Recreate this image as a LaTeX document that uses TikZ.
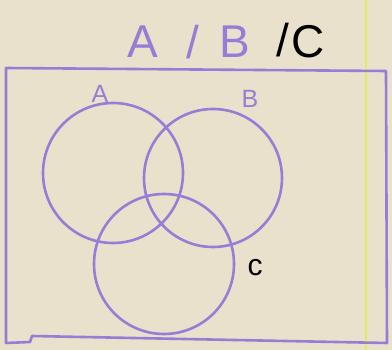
\documentclass[tikz,border=0pt]{standalone}
\usepackage{fontspec}
\setmainfont{Liberation Sans}
\definecolor{paper}{RGB}{233,225,203}
\definecolor{ink}{RGB}{150,126,214}
\definecolor{margin}{RGB}{222,238,96}
\tikzset{
  setcircle/.style={circle, draw=ink, line width=2.6pt, minimum size=140pt, inner sep=0pt},
  setlabel/.style={text=ink, inner sep=0pt, font=\fontsize{25}{25}\selectfont},
  titletext/.style={inner sep=0pt, font=\fontsize{46}{46}\selectfont}
}

\begin{document}
\begin{tikzpicture}[x=1pt,y=-1pt]
\useasboundingbox (0,0) rectangle (392,350);
\fill[paper] (0,0) rectangle (392,350);
\draw[margin, line width=1.2pt] (366,0) -- (366,350);
% title
\node[titletext, text=ink] (titleA) at (143,42) {A};
\node[titletext, text=ink] (slashAB) at (193,42) {/};
\node[titletext, text=ink] (titleB) at (235,42) {B};
\node[titletext] (slashBC) at (283,40) {/};
\node[titletext] (titleC) at (308,42) {C};
% universe
\draw[ink, line width=2.6pt, line join=round] (6,68) -- (386,71) -- (387,343) -- (32,336) -- (30,342) -- (6,343) -- cycle;
% sets
\node[setcircle] (setA) at (113,173) {};
\node[setcircle, minimum size=138pt] (setB) at (213,178) {};
\node[setcircle] (setC) at (164,264) {};
\node[setlabel] (labA) at (100,94) {A};
\node[setlabel] (labB) at (250,99) {B};
\node[inner sep=0pt, font=\fontsize{30}{30}\selectfont] (labC) at (255,268) {c};
\end{tikzpicture}
\end{document}
